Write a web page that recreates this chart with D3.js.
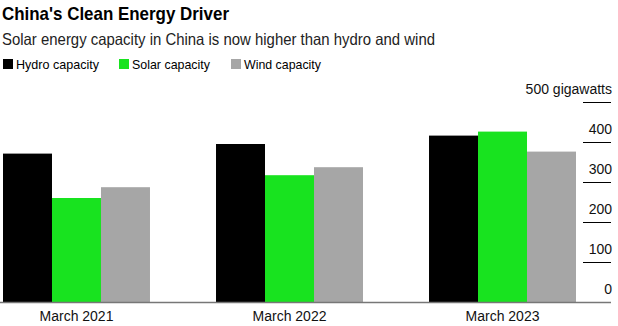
<!DOCTYPE html>
<html lang="en">
<head>
<meta charset="utf-8">
<title>China's Clean Energy Driver</title>
<script src="https://d3js.org/d3.v7.min.js"></script>
<style>
  * { margin:0; padding:0; box-sizing:border-box; }
  body { background:#fff; font-family:'Liberation Sans', Arial, sans-serif; }
  svg { display:block; }
  .title { font-size:18.5px; font-weight:700; fill:#000; }
  .subtitle { font-size:16.5px; fill:#222; }
  .legend text { font-size:13.5px; fill:#000; }
  .tick-label { font-size:14px; fill:#111; }
  .cat-label { font-size:14px; fill:#111; }
</style>
</head>
<body>
<svg id="chart" width="618" height="326"></svg>
<script>
const categories = ['March 2021', 'March 2022', 'March 2023'];
const seriesNames = ['Hydro capacity', 'Solar capacity', 'Wind capacity'];
const hydro = [371, 395, 416];
const solar = [260, 317, 426];
const wind = [287, 337, 376];
const yTicks = [0, 100, 200, 300, 400, 500];
const colors = ['#000000', '#18e31f', '#a6a6a6'];

const svg = d3.select('#chart');

// titles (Bloomberg's face is tighter than Liberation, so fit widths)
svg.append('text').attr('class', 'title').attr('x', 2).attr('y', 20)
  .attr('textLength', 227).attr('lengthAdjust', 'spacingAndGlyphs')
  .text("China's Clean Energy Driver");
svg.append('text').attr('class', 'subtitle').attr('x', 2).attr('y', 45)
  .attr('textLength', 433).attr('lengthAdjust', 'spacingAndGlyphs')
  .text('Solar energy capacity in China is now higher than hydro and wind');

// legend
const legendX = [3, 119, 231];
const legendW = [83, 78, 77];
const legend = svg.append('g').attr('class', 'legend');
seriesNames.forEach((name, i) => {
  legend.append('rect').attr('x', legendX[i]).attr('y', 59).attr('width', 10).attr('height', 10).attr('fill', colors[i]);
  legend.append('text').attr('x', legendX[i] + 13).attr('y', 69)
    .attr('textLength', legendW[i]).attr('lengthAdjust', 'spacingAndGlyphs')
    .text(name);
});

// scales
const y = d3.scaleLinear().domain([0, 500]).range([302, 102]);
const x0 = d3.scaleBand().domain(categories).range([3, 576]).paddingInner(0.31).paddingOuter(0);
const x1 = d3.scaleBand().domain(seriesNames).range([0, x0.bandwidth()]);

const rows = categories.map((c, i) => ({ cat: c, vals: [hydro[i], solar[i], wind[i]] }));

// short tick lines on the right
const tickG = svg.append('g');
yTicks.forEach(t => {
  if (t > 0) {
    tickG.append('line').attr('x1', 583).attr('x2', 611)
      .attr('y1', Math.round(y(t)) + 0.5).attr('y2', Math.round(y(t)) + 0.5)
      .attr('stroke', '#000').attr('stroke-width', 1);
  }
  tickG.append('text').attr('class', 'tick-label').attr('text-anchor', 'end')
    .attr('x', 612).attr('y', y(t) - 8)
    .text(t === 500 ? '500 gigawatts' : t);
});

// bars
const groups = svg.append('g').selectAll('g').data(rows).join('g')
  .attr('transform', d => `translate(${x0(d.cat)},0)`);
groups.selectAll('rect').data(d => d.vals.map((v, i) => ({ name: seriesNames[i], v, i })))
  .join('rect')
  .attr('x', d => x1(d.name))
  .attr('width', x1.bandwidth())
  .attr('y', d => y(d.v))
  .attr('height', d => y(0) - y(d.v))
  .attr('fill', d => colors[d.i]);

// baseline
svg.append('line').attr('x1', 0).attr('x2', 611).attr('y1', y(0) + 0.5).attr('y2', y(0) + 0.5)
  .attr('stroke', '#777').attr('stroke-width', 1.5);

// category labels
svg.append('g').selectAll('text').data(categories).join('text')
  .attr('class', 'cat-label').attr('text-anchor', 'middle')
  .attr('x', d => x0(d) + x0.bandwidth() / 2).attr('y', 321)
  .text(d => d);
</script>
</body>
</html>
